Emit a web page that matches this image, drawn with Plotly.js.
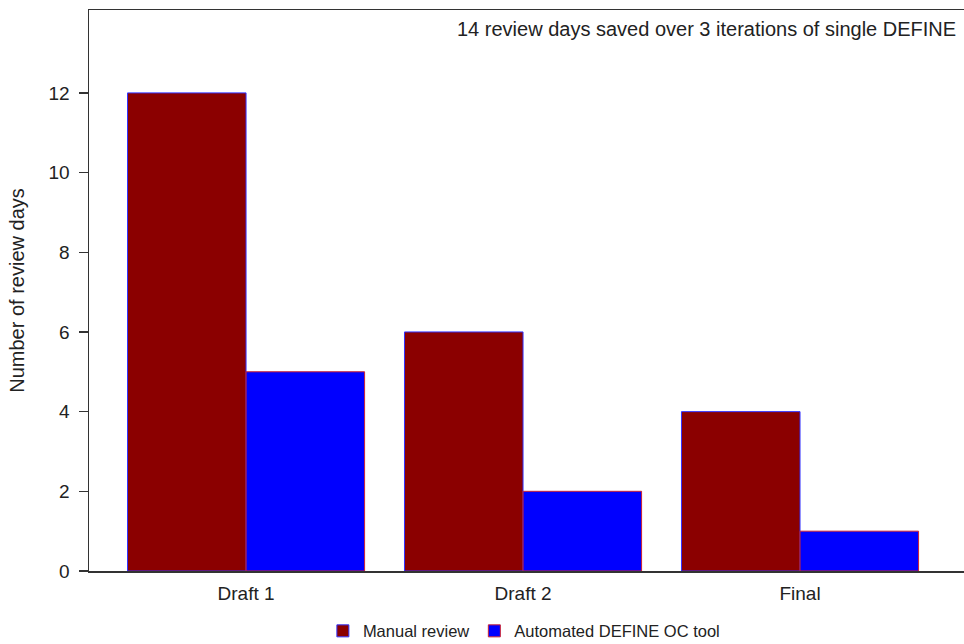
<!DOCTYPE html>
<html>
<head>
<meta charset="utf-8">
<script src="https://cdn.plot.ly/plotly-3.0.1.min.js"></script>
<style>html,body{margin:0;padding:0;background:#fff;}#chart{width:964px;height:644px;}</style>
</head>
<body>
<div id="chart"></div>
<script>
const categories = ["Draft 1", "Draft 2", "Final"];
const manualReview = [12, 6, 4];
const automatedTool = [5, 2, 1];
const seriesNames = ["Manual review", "Automated DEFINE OC tool"];
const yTicks = [0, 2, 4, 6, 8, 10, 12];
const note = "14 review days saved over 3 iterations of single DEFINE";

const font = "Liberation Sans, Arial, sans-serif";
const tc = "#222";
const traces = [
  {type: "bar", name: seriesNames[0], x: categories, y: manualReview,
   marker: {color: "#8b0000", line: {color: "#3333ff", width: 1}}},
  {type: "bar", name: seriesNames[1], x: categories, y: automatedTool,
   marker: {color: "#0000ff", line: {color: "#cc2233", width: 1}}}
];
const layout = {
  width: 964, height: 644,
  margin: {l: 89, r: 0, t: 10, b: 73, autoexpand: false},
  paper_bgcolor: "#fff", plot_bgcolor: "#fff",
  font: {family: font, size: 20, color: tc},
  barmode: "group", bargap: 0.144, bargroupgap: 0,
  showlegend: true,
  legend: {orientation: "h", x: 0.497, xanchor: "center", yref: "container", y: 0.02, yanchor: "middle",
           bgcolor: "rgba(0,0,0,0)", font: {size: 16.5, family: font, color: tc}},
  xaxis: {type: "category", range: [-0.567, 2.592], showline: true, linecolor: "#333", linewidth: 1.5,
          mirror: true, ticks: "", showgrid: false, zeroline: false,
          ticklabelstandoff: 5, tickfont: {size: 19, family: font, color: tc}},
  yaxis: {range: [0, 14.08], tickvals: yTicks, showline: true, linecolor: "#333", linewidth: 1.5,
          ticks: "outside", ticklen: 9, tickcolor: "#333", tickwidth: 1.5, showgrid: false, zeroline: false,
          ticklabelstandoff: 5, tickfont: {size: 19, family: font, color: tc},
          title: {text: "Number of review days", font: {size: 20, family: font, color: tc}, standoff: 18}},
  annotations: [{xref: "paper", yref: "paper", x: 0.993, y: 0.966, xanchor: "right", yanchor: "middle",
                 text: note, showarrow: false, font: {size: 20, family: font, color: tc}}]
};
Plotly.newPlot("chart", traces, layout, {displayModeBar: false, staticPlot: true});
</script>
</body>
</html>
